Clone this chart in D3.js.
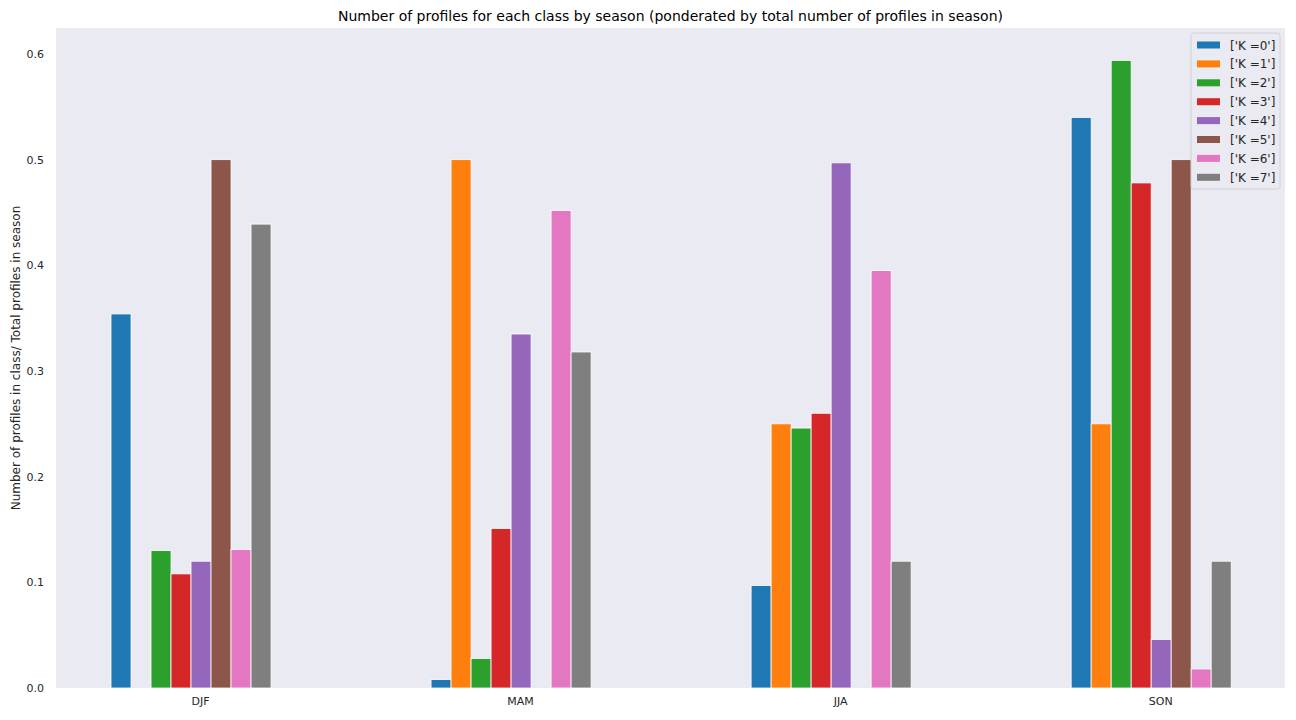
<!DOCTYPE html>
<html>
<head>
<meta charset="utf-8">
<script src="https://cdn.jsdelivr.net/npm/d3@7"></script>
<style>
  body { margin: 0; background: #fff; }
  svg { font-family: "DejaVu Sans", sans-serif; }
</style>
</head>
<body>
<div id="chart"></div>
<script>
// seasons and classes
var seasons = ['DJF', 'MAM', 'JJA', 'SON']
var classes = ["['K =0']", "['K =1']", "['K =2']", "['K =3']", "['K =4']", "['K =5']", "['K =6']", "['K =7']"]
var k0 = [0.354, 0.008, 0.097, 0.540]
var k1 = [0.0, 0.500, 0.250, 0.250]
var k2 = [0.130, 0.028, 0.246, 0.594]
var k3 = [0.108, 0.151, 0.260, 0.478]
var k4 = [0.120, 0.335, 0.497, 0.046]
var k5 = [0.500, 0.0, 0.0, 0.500]
var k6 = [0.131, 0.452, 0.395, 0.018]
var k7 = [0.439, 0.318, 0.120, 0.120]
var yTicks = [0.0, 0.1, 0.2, 0.3, 0.4, 0.5, 0.6]
var colors = ['#1f77b4', '#ff7f0e', '#2ca02c', '#d62728', '#9467bd', '#8c564b', '#e377c2', '#7f7f7f']

var series = [k0, k1, k2, k3, k4, k5, k6, k7]

// set the dimensions and margins of the graph
var W = 1296, H = 720
var margin = {top: 28, right: 11, bottom: 32, left: 56},
    width = W - margin.left - margin.right,
    height = H - margin.top - margin.bottom

var nK = classes.length
var barW = 0.5 / nK   // pandas-style bar width in category units

const xScale = d3.scaleLinear()
    .domain([-0.45, 3.39])
    .range([0, width])

const yScale = d3.scaleLinear()
    .domain([0, 0.6246])
    .range([height, 0])

const svg = d3.select('#chart')
    .append('svg')
    .attr('width', W)
    .attr('height', H)

svg.append('text')
    .attr('x', margin.left + width / 2)
    .attr('y', 21)
    .attr('text-anchor', 'middle')
    .style('font-size', '14px')
    .style('fill', '#000')
    .text('Number of profiles for each class by season (ponderated by total number of profiles in season)')

const g = svg.append('g')
    .attr('transform', 'translate(' + margin.left + ',' + margin.top + ')')

g.append('rect')
    .attr('width', width)
    .attr('height', height)
    .attr('fill', '#eaeaf2')

// bars, one group per class
series.forEach(function(vals, i) {
    g.selectAll('.bar-k' + i)
        .data(vals.map((v, j) => ({season: j, value: v})))
        .enter().append('rect')
        .attr('class', 'bar-k' + i)
        .attr('x', d => xScale(d.season + (i - nK / 2 - 0.45) * barW))
        .attr('width', xScale(barW) - xScale(0))
        .attr('y', d => yScale(d.value))
        .attr('height', d => yScale(0) - yScale(d.value))
        .attr('fill', colors[i])
        .attr('stroke', d => d.value > 0 ? '#fff' : 'none')
        .attr('stroke-width', 0.8)
})

// x axis
const xAxis = g.append('g')
    .attr('transform', 'translate(0,' + height + ')')
    .call(d3.axisBottom(xScale).tickValues(d3.range(seasons.length)).tickFormat(i => seasons[i]).tickSize(0).tickPadding(9))
xAxis.select('.domain').remove()

// y axis
const yAxis = g.append('g')
    .call(d3.axisLeft(yScale).tickValues(yTicks).tickFormat(d3.format('.1f')).tickSize(0).tickPadding(12))
yAxis.select('.domain').remove()

g.selectAll('.tick text')
    .style('font-size', '11px')
    .style('fill', '#262626')
    .style('font-family', '"DejaVu Sans", sans-serif')

svg.append('text')
    .attr('transform', 'translate(20,' + (margin.top + height / 2) + ') rotate(-90)')
    .attr('text-anchor', 'middle')
    .style('font-size', '12px')
    .style('fill', '#262626')
    .text('Number of profiles in class/ Total profiles in season')

// legend
const lg = svg.append('g')
    .attr('transform', 'translate(1191,33)')
lg.append('rect')
    .attr('width', 89)
    .attr('height', 156)
    .attr('rx', 2.5)
    .attr('fill', '#eaeaf2')
    .attr('fill-opacity', 0.8)
    .attr('stroke', '#cccccc')
    .attr('stroke-width', 0.8)

classes.forEach(function(name, i) {
    const row = lg.append('g').attr('transform', 'translate(0,' + (12 + i * 18.9) + ')')
    row.append('rect')
        .attr('x', 6).attr('y', -3.5)
        .attr('width', 23).attr('height', 7)
        .attr('fill', colors[i])
    row.append('text')
        .attr('x', 39).attr('y', 4.5)
        .style('font-size', '12px')
        .style('fill', '#262626')
        .text(name)
})
</script>
</body>
</html>
